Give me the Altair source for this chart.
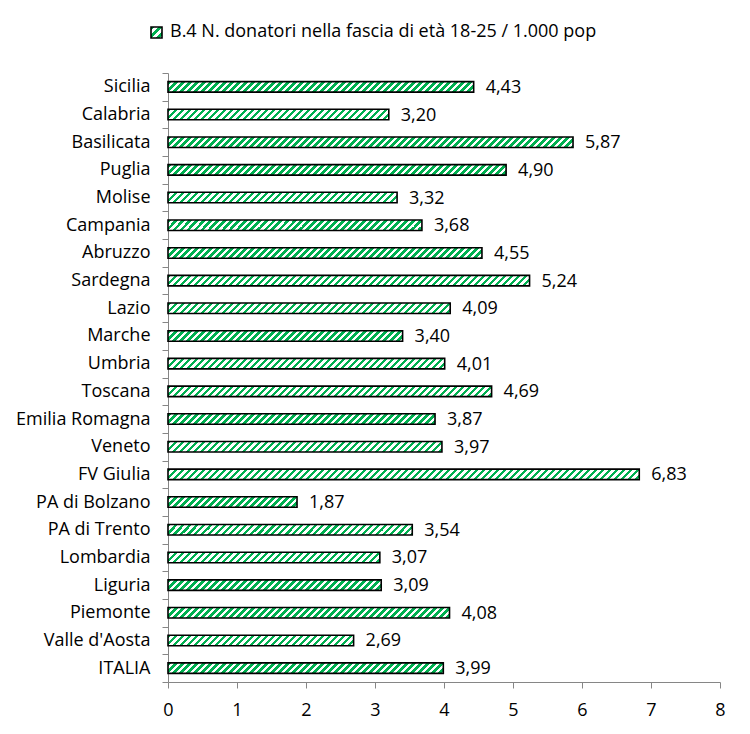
import altair as alt

regions = ["Sicilia", "Calabria", "Basilicata", "Puglia", "Molise", "Campania",
           "Abruzzo", "Sardegna", "Lazio", "Marche", "Umbria", "Toscana",
           "Emilia Romagna", "Veneto", "FV Giulia", "PA di Bolzano", "PA di Trento",
           "Lombardia", "Liguria", "Piemonte", "Valle d'Aosta", "ITALIA"]
values = [4.43, 3.20, 5.87, 4.90, 3.32, 3.68, 4.55, 5.24, 4.09, 3.40, 4.01, 4.69,
          3.87, 3.97, 6.83, 1.87, 3.54, 3.07, 3.09, 4.08, 2.69, 3.99]
x_ticks = [0, 1, 2, 3, 4, 5, 6, 7, 8]
legend_text = "B.4 N. donatori nella fascia di età 18-25 / 1.000 pop"

W_PLOT = 552
H_PLOT = 609
X_MAX = 8
BAR_H = 10.5
GREEN = "#00B050"
FONT = "Open Sans"
FS = 18


def stripe_gradient(w, h, period=7.0, frac=0.5):
    """Diagonal '/' stripes expressed as a hard-stop linear gradient
    in the mark's bounding-box units."""
    w = max(w, 1.0)
    L = w + h
    s = (w + h) * w / (w * w + h * h)
    x2 = s
    y2 = s * h / w
    stops = []
    k = 0
    while k * period < L:
        a = k * period / L
        b = min((k + frac) * period / L, 1.0)
        c = min((k + 1) * period / L, 1.0)
        stops += [{"offset": a, "color": GREEN}, {"offset": b, "color": GREEN},
                  {"offset": b, "color": "white"}, {"offset": c, "color": "white"}]
        k += 1
    return {"gradient": "linear", "x1": 0, "y1": 0, "x2": x2, "y2": y2, "stops": stops}


records = []
for r, v in zip(regions, values):
    records.append({
        "region": r,
        "value": v,
        "grad": stripe_gradient(v * W_PLOT / X_MAX, BAR_H),
    })
data = alt.Data(values=records)

y_enc = alt.Y("region:N", sort=regions, title=None,
              scale=alt.Scale(paddingInner=0, paddingOuter=0),
              axis=alt.Axis(tickBand="extent", domainColor="#868686", tickColor="#868686",
                            tickSize=6, labelPadding=12, labelFontSize=FS, labelFont=FONT,
                            labelColor="black", domainWidth=1))
x_enc = alt.X("value:Q", title=None,
              scale=alt.Scale(domain=[0, X_MAX], nice=False),
              axis=alt.Axis(values=x_ticks, grid=False, domainColor="#868686",
                            tickColor="#868686", tickSize=6, labelPadding=13,
                            labelFlush=False,
                            labelFontSize=FS, labelFont=FONT, labelColor="black",
                            format="d"))

bars = alt.Chart(data).mark_bar(size=BAR_H, stroke="black", strokeWidth=1.6).encode(
    x=x_enc,
    y=y_enc,
    fill=alt.Fill("grad:N", scale=None),
)

labels = alt.Chart(data).transform_calculate(
    lab="replace(format(datum.value, '.2f'), '.', ',')"
).mark_text(align="left", baseline="middle", dx=12, dy=1, fontSize=FS, font=FONT,
            color="black").encode(
    x="value:Q",
    y=alt.Y("region:N", sort=regions),
    text="lab:N",
)

legend_data = alt.Data(values=[{"grad": stripe_gradient(10, 10), "label": legend_text}])
legend_box = alt.Chart(legend_data).mark_rect(stroke="black", strokeWidth=1.6).encode(
    x=alt.value(-17), x2=alt.value(-6), y=alt.value(-46), y2=alt.value(-35),
    fill=alt.Fill("grad:N", scale=None),
)
legend_label = alt.Chart(legend_data).mark_text(
    align="left", baseline="middle", fontSize=FS, font=FONT, color="black"
).encode(
    x=alt.value(2), y=alt.value(-41), text="label:N",
)

chart = alt.layer(bars, labels, legend_box, legend_label).properties(
    width=W_PLOT, height=H_PLOT,
    autosize=alt.AutoSizeParams(type="none"),
    padding={"left": 160, "top": 65, "right": 20, "bottom": 45},
).configure(background="white").configure_view(strokeWidth=0, strokeOpacity=0)

chart.save("out.html", embed_options={"renderer": "svg", "actions": False})
